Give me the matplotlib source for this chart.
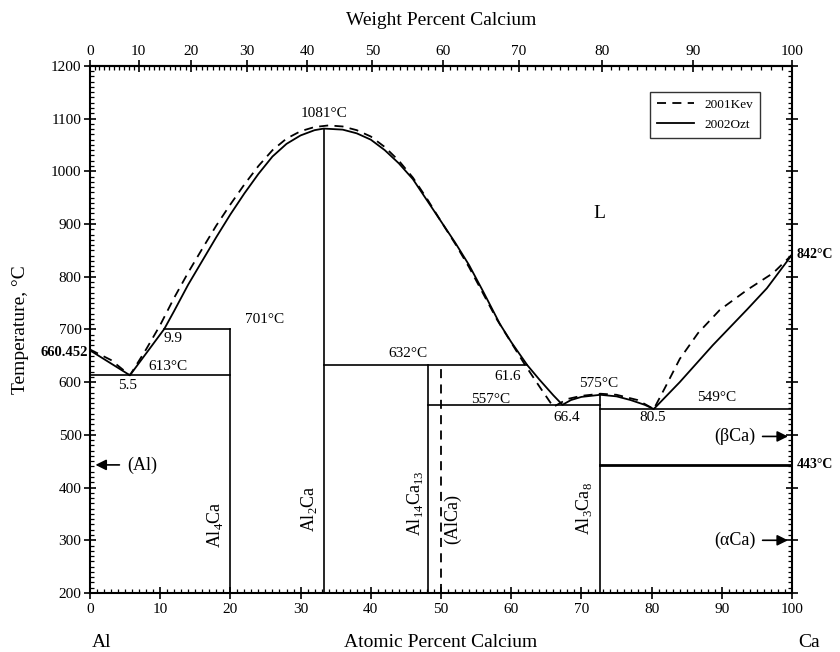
import numpy as np
import matplotlib
matplotlib.use('Agg')
from matplotlib import pyplot as plt
from matplotlib.ticker import MultipleLocator, FixedLocator

plt.rcParams['font.family'] = ['Liberation Serif', 'DejaVu Serif']
plt.rcParams['mathtext.fontset'] = 'custom'
plt.rcParams['mathtext.rm'] = 'Liberation Serif'

M_AL, M_CA = 26.982, 40.078

# liquidus, 2002Ozt (solid)
ozt_x = [0, 5.7, 10.6, 12, 14, 16, 18, 20, 22, 24, 26, 28, 30, 32, 33.3,
         36, 38, 40, 42, 44, 46, 48, 50, 52, 54, 56, 58.4, 60, 62.3,
         64, 66, 67.3, 68.5, 70, 72.7, 75, 77, 79, 80.3,
         84, 88.7, 93.6, 96.4, 100]
ozt_t = [660.452, 613, 701, 735, 785, 830, 875, 918, 958, 995, 1028, 1052, 1068, 1078, 1081,
         1079, 1072, 1060, 1040, 1015, 985, 945, 905, 865, 822, 772, 710, 676, 632,
         605, 575, 557, 566, 572, 576, 573, 566, 557, 549,
         600, 670, 738, 778, 842]

# liquidus, 2001Kev (dashed)
kev_x = [0, 3, 5.7, 8, 10, 12, 14, 16, 18, 20, 22, 24, 26, 28, 30, 32, 34, 36, 38, 40,
         42, 44, 46, 48, 50, 52, 54, 56, 58, 60, 62, 64, 66.0,
         68, 70, 72.7, 75, 78, 80.3,
         82, 84, 86.6, 89.7, 93.6, 97.3, 100]
kev_t = [662, 642, 613, 662, 708, 760, 808, 853, 897, 937, 975, 1010, 1040, 1062, 1076, 1084, 1087, 1085, 1078, 1066,
         1046, 1020, 988, 948, 905, 863, 818, 768, 718, 675, 632, 592, 553,
         568, 574, 578, 576, 566, 549,
         592, 644, 693, 737, 775, 807, 842]

# invariant / solvus lines: (x0, x1, T)
horiz = [(0, 20, 613), (10.6, 20, 701), (33.3, 62.3, 632),
         (48.1, 72.7, 557), (72.7, 100, 549), (72.7, 100, 443)]
# compound lines: (x, Tlow, Thigh)
verts = [(20, 200, 701), (33.3, 200, 1081), (48.1, 200, 632), (72.7, 200, 576)]
alca_x, alca_top = 50, 632

wt_ticks = list(range(0, 101, 10))

phase_labels = [('Al$_4$Ca', 17.8, 330), ('Al$_2$Ca', 31.2, 360),
                ('Al$_{14}$Ca$_{13}$', 46.3, 370), ('(AlCa)', 51.7, 340),
                ('Al$_3$Ca$_8$', 70.3, 360)]
point_labels = [('1081°C', 33.3, 1110), ('701°C', 24.9, 718), ('613°C', 11.1, 629),
                ('9.9', 11.8, 682), ('5.5', 5.4, 593), ('632°C', 45.3, 655),
                ('61.6', 59.5, 610), ('557°C', 57.0, 568), ('575°C', 72.4, 598),
                ('66.4', 67.9, 532), ('80.5', 80.1, 532), ('549°C', 89.3, 570)]

fig = plt.figure(figsize=(8.4, 6.52), dpi=100)
ax = fig.add_axes([0.107, 0.0905, 0.836, 0.8085])

ax.plot(kev_x, kev_t, 'k--', lw=1.3, dashes=(5, 3.5), label='2001Kev')
ax.plot(ozt_x, ozt_t, 'k-', lw=1.3, label='2002Ozt')
for x0, x1, t in horiz:
    ax.plot([x0, x1], [t, t], 'k-', lw=2.0 if t == 443 else 1.2)
for x, t0, t1 in verts:
    ax.plot([x, x], [t0, t1], 'k-', lw=1.2)
ax.plot([alca_x, alca_x], [200, alca_top], 'k--', lw=1.3, dashes=(5, 3.5))

for txt, x, t in phase_labels:
    ax.text(x, t, txt, rotation=90, ha='center', va='center', fontsize=13)
for txt, x, t in point_labels:
    ax.text(x, t, txt, ha='center', va='center', fontsize=11)
ax.text(72.6, 919, 'L', ha='center', va='center', fontsize=14)

ax.text(-0.3, 657, '660.452', ha='right', va='center', fontsize=10.5, weight='bold')
ax.text(100.6, 842, '842°C', ha='left', va='center', fontsize=10, weight='bold')
ax.text(100.6, 443, '443°C', ha='left', va='center', fontsize=10, weight='bold')

arr = dict(arrowstyle='-|>', color='k', lw=1.2, mutation_scale=16)
ax.annotate('', xy=(0.4, 443), xytext=(4.6, 443), arrowprops=arr)
ax.text(5.3, 443, '(Al)', ha='left', va='center', fontsize=13)
ax.annotate('', xy=(99.8, 497), xytext=(95.4, 497), arrowprops=arr)
ax.text(94.8, 497, '(βCa)', ha='right', va='center', fontsize=13)
ax.annotate('', xy=(99.8, 300), xytext=(95.4, 300), arrowprops=arr)
ax.text(94.8, 300, '(αCa)', ha='right', va='center', fontsize=13)

ax.set_xlim(0, 100)
ax.set_ylim(200, 1200)
ax.xaxis.set_major_locator(MultipleLocator(10))
ax.xaxis.set_minor_locator(MultipleLocator(1))
ax.yaxis.set_major_locator(MultipleLocator(100))
ax.yaxis.set_minor_locator(MultipleLocator(10))
ax.tick_params(which='major', direction='inout', length=8, width=1.2, labelsize=11)
ax.tick_params(which='minor', direction='in', length=3, width=0.9)
ax.tick_params(axis='y', right=True, which='both')
ax.tick_params(axis='y', which='major', pad=2)
ax.tick_params(axis='x', which='major', pad=3)
for s in ax.spines.values():
    s.set_linewidth(1.5)

ax.set_ylabel('Temperature, °C', fontsize=14)
ax.yaxis.set_label_coords(-0.086, 0.5)
ax.text(0.5, -0.093, 'Atomic Percent Calcium', transform=ax.transAxes,
        ha='center', va='center', fontsize=14)
ax.text(0.017, -0.093, 'Al', transform=ax.transAxes, ha='center', va='center', fontsize=14)
ax.text(1.024, -0.093, 'Ca', transform=ax.transAxes, ha='center', va='center', fontsize=14)


def at2wt(a):
    a = np.asarray(a, dtype=float)
    return 100 * a * M_CA / (a * M_CA + (100 - a) * M_AL)


def wt2at(w):
    w = np.asarray(w, dtype=float)
    return 100 * (w / M_CA) / (w / M_CA + (100 - w) / M_AL)


top = ax.secondary_xaxis('top', functions=(at2wt, wt2at))
top.xaxis.set_major_locator(FixedLocator(wt_ticks))
top.xaxis.set_minor_locator(FixedLocator(list(range(0, 101))))
top.tick_params(which='major', direction='inout', length=8, width=1.2, labelsize=11, pad=2)
top.tick_params(which='minor', direction='in', length=3, width=0.9)
top.spines['top'].set_linewidth(1.5)
top.set_xlabel('Weight Percent Calcium', fontsize=14, labelpad=14)

leg = ax.legend(loc='upper right', bbox_to_anchor=(0.963, 0.963), fontsize=9.5,
                frameon=True, fancybox=False, edgecolor='k', handlelength=2.8,
                borderpad=0.5, labelspacing=0.6)
leg.get_frame().set_linewidth(1.0)

fig.savefig('out.png', dpi=100)
